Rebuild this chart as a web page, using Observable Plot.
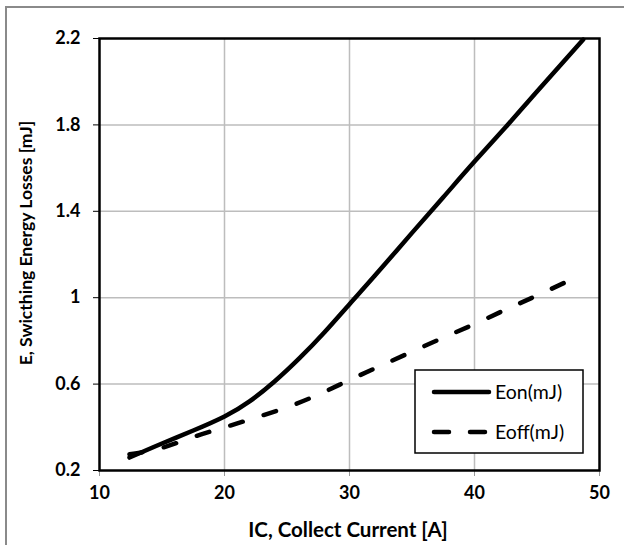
<!DOCTYPE html>
<html>
<head>
<meta charset="utf-8">
<script src="https://cdn.jsdelivr.net/npm/d3@7"></script>
<script src="https://cdn.jsdelivr.net/npm/@observablehq/plot@0.6"></script>
<style>
  body { margin: 0; background: #fff; }
  #chart { position: relative; width: 624px; height: 545px; }
</style>
</head>
<body>
<div id="chart"></div>
<script>
const icOn  = [12.4, 15, 17.5, 20, 22, 24, 26, 28, 30, 32, 35, 37.5, 40, 42.5, 45, 48.7];
const eOn   = [0.26, 0.325, 0.385, 0.45, 0.52, 0.612, 0.72, 0.84, 0.97, 1.10, 1.30, 1.465, 1.63, 1.79, 1.955, 2.195];
const icOff = [12.4, 15, 17.5, 20, 22.5, 25, 27.5, 30, 32.5, 35, 37.5, 40, 42.5, 45, 48.7];
const eOff  = [0.275, 0.305, 0.355, 0.40, 0.445, 0.493, 0.551, 0.619, 0.685, 0.75, 0.815, 0.878, 0.945, 1.01, 1.11];
const xTicks = [10, 20, 30, 40, 50];
const yTicks = [0.2, 0.6, 1, 1.4, 1.8, 2.2];
const seriesNames = ["Eon(mJ)", "Eoff(mJ)"];
const xTitle = "IC, Collect Current [A]";
const yTitle = "E, Swicthing Energy Losses [mJ]";

const onData = icOn.map((x, i) => ({x, y: eOn[i]}));
const offData = icOff.map((x, i) => ({x, y: eOff[i]}));

const font = "Lato, 'Open Sans', sans-serif";

const chart = Plot.plot({
  width: 624,
  height: 545,
  marginLeft: 99,
  marginRight: 25,
  marginTop: 38,
  marginBottom: 75,
  style: { fontFamily: font, background: "#fff", color: "#000", fontSize: "18px" },
  x: { domain: [10, 50] },
  y: { domain: [0.2, 2.2] },
  marks: [
    Plot.gridX(xTicks.slice(1, -1), { stroke: "#bdbdbd", strokeOpacity: 1, strokeWidth: 1.5 }),
    Plot.gridY(yTicks.slice(1, -1), { stroke: "#bdbdbd", strokeOpacity: 1, strokeWidth: 1.5 }),
    Plot.axisX({ ticks: xTicks, tickSize: 6, tickPadding: 10, stroke: "#999", fontSize: 18, fontWeight: "bold", label: null, tickFormat: d => String(d) }),
    Plot.axisY({ ticks: yTicks, tickSize: 6, tickPadding: 13, fontSize: 18, fontWeight: "bold", label: null, tickFormat: d => String(d) }),
    Plot.line(offData, { x: "x", y: "y", curve: "natural", stroke: "#000", strokeWidth: 4.5, strokeDasharray: "13,22", strokeLinecap: "round" }),
    Plot.line(onData, { x: "x", y: "y", curve: "natural", stroke: "#000", strokeWidth: 4.5 }),
    Plot.frame({ stroke: "#000", strokeWidth: 2.5 })
  ]
});

document.getElementById("chart").appendChild(chart);

const svg = d3.select(chart);
// outer chart-area border (left/top visible in the reference)
svg.append("path").attr("d", "M6,545 V7 H624").attr("fill", "none").attr("stroke", "#8a8a8a").attr("stroke-width", 2);

// axis titles
svg.append("text").text(xTitle)
  .attr("x", 348).attr("y", 537).attr("text-anchor", "middle")
  .attr("font-family", font).attr("font-size", 20.5).attr("font-weight", "bold").attr("fill", "#000");
svg.append("text").text(yTitle)
  .attr("transform", "translate(32,243) rotate(-90)").attr("text-anchor", "middle")
  .attr("font-family", font).attr("font-size", 17.5).attr("font-weight", "bold").attr("fill", "#000");

// legend
const lg = svg.append("g");
lg.append("rect").attr("x", 415).attr("y", 370).attr("width", 168).attr("height", 83)
  .attr("fill", "#fff").attr("stroke", "#000").attr("stroke-width", 1.5);
lg.append("line").attr("x1", 434).attr("x2", 489).attr("y1", 392).attr("y2", 392)
  .attr("stroke", "#000").attr("stroke-width", 4.5).attr("stroke-linecap", "round");
lg.append("line").attr("x1", 434).attr("x2", 489).attr("y1", 432).attr("y2", 432)
  .attr("stroke", "#000").attr("stroke-width", 4.5).attr("stroke-linecap", "round").attr("stroke-dasharray", "15,21");
seriesNames.forEach((n, i) => {
  lg.append("text").text(n).attr("x", 495).attr("y", 392 + i * 40).attr("dy", "0.35em")
    .attr("text-anchor", "start")
    .attr("font-family", font).attr("font-size", 19.5).attr("fill", "#000");
});
</script>
</body>
</html>
